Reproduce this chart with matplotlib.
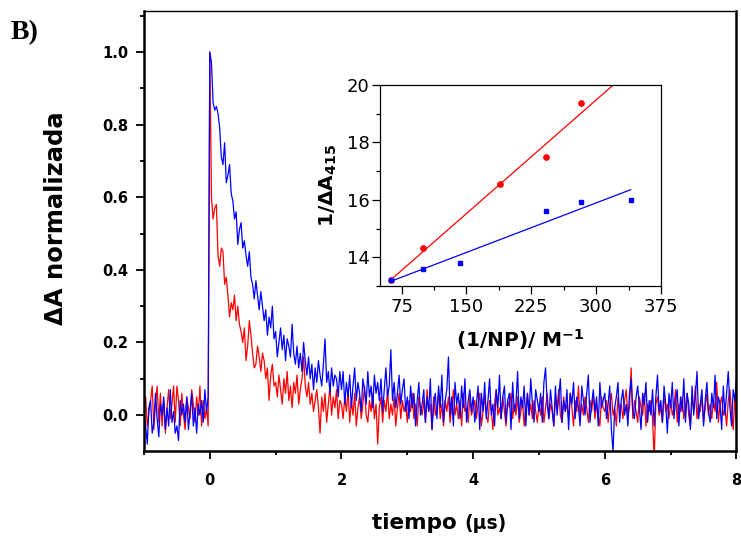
import numpy as np
import matplotlib.pyplot as plt
from matplotlib.ticker import MultipleLocator

# eje de tiempo (us): desde -1 con paso de 0.025
t_start, t_step = -1.0, 0.025

# señal normalizada, en centésimas
red_x100 = [
    2, 5, -3, 1, 4, 8, -4, 3, 8, -2,
    6, -3, 4, -5, 2, 7, -1, 3, 8, -2,
    8, 4, -3, 6, 0, -4, 5, 2, -1, 7,
    3, -2, 5, 0, 8, -3, 4, -1, 2, -3,
    100, 60, 54, 57, 58, 44, 41, 46, 45, 36,
    38, 33, 27, 31, 29, 33, 26, 30, 25, 23,
    20, 24, 15, 19, 26, 22, 17, 13, 14, 19,
    16, 12, 17, 15, 10, 13, 4, 11, 14, 8,
    9, 5, 11, 7, 3, 10, 6, 12, 4, 8,
    2, 9, 6, 11, 3, 7, 10, 16, 8, 5,
    9, 3, 6, 1, 4, 7, 2, -5, 5, 1,
    6, -2, 3, 8, 0, 5, 2, 7, -1, 4,
    3, -1, 5, 1, 7, -2, 4, 0, 6, -3,
    2, 5, -1, 3, 8, 0, -2, 4, 1, 6,
    -1, 3, -8, 2, 5, -2, 4, 1, 7, -1,
    3, 0, 5, -3, 2, 6, -1, 4, 1, 3,
    -2, 4, 1, 6, -1, 3, -3, 5, 2, 0,
    4, -2, 7, 1, 3, -4, 5, 0, 2, 6,
    -1, 3, -3, 4, 1, 5, -2, 2, 7, 0,
    3, -1, 4, -3, 6, 1, 2, -2, 5, 0,
    2, 4, -1, 3, 6, -3, 1, 5, 0, -2,
    4, 2, -4, 3, 7, 0, 2, -1, 5, 1,
    -3, 4, 2, 6, -1, 3, 0, 5, -2, 1,
    4, -3, 2, 6, 0, 3, -1, 4, 1, -2,
    3, 0, 5, -2, 2, 6, -1, 3, 1, -3,
    4, 2, 7, 0, -2, 5, 1, 3, -1, 6,
    2, -3, 4, 1, 8, -1, 3, 0, 5, 2,
    -2, 4, 1, 6, -1, 3, 0, -3, 5, 2,
    1, 4, -2, 3, 6, 0, 2, -3, 5, 1,
    3, -1, 4, 7, 0, 2, 13, -1, 4, 1,
    -2, 5, 2, 0, 6, -3, 3, 1, 4, -1,
    -12, 3, 5, 0, 2, -2, 6, 1, 3, -1,
    4, 0, 2, 7, -2, 3, 1, 5, -1, 2,
    6, 0, -3, 4, 2, 8, -1, 3, 1, 5,
    -2, 2, 6, 0, 3, -1, 4, 1, 9, -2,
    3, 5, 0, 2, -3, 4, 7, 1, -4, 5,
    -3,
]
blue_x100 = [
    1, -3, -8, 2, 4, -5, -2, 6, -1, -6,
    3, 0, 5, -4, 2, -3, 7, -2, 1, -5,
    -3, -7, 4, 0, 3, -2, 5, -4, 1, 6,
    -3, 2, -5, 3, 0, 4, -2, 7, 1, 5,
    100, 97, 86, 84, 85, 83, 79, 71, 69, 75,
    64, 66, 69, 61, 59, 54, 56, 47, 51, 53,
    46, 48, 44, 41, 45, 38, 36, 32, 37, 33,
    29, 34, 30, 26, 29, 22, 27, 24, 30, 21,
    23, 16, 20, 24, 18, 22, 15, 21, 19, 16,
    25, 17, 14, 19, 13, 17, 12, 20, 15, 11,
    16, 10, 14, 7, 13, 9, 15, 11, 8, 14,
    21, 9, 12, 6, 13, 8, 11, 10, 5, 12,
    7, 12, 3, 9, 5, 11, 2, 8, 13, 4,
    9, 6, 1, 10, 7, 3, 12, 5, 8, 2,
    11, 6, 9, 4, 10, 1, 7, 13, 5, 8,
    18, 4, 9, 2, 6, 11, 3, 7, 10, 1,
    5, -1, 8, 2, 6, -3, 4, 9, 0, 3,
    7, -2, 5, 1, 10, -4, 3, 6, -1, 8,
    2, 11, -2, 4, 7, 16, 0, 5, -3, 9,
    3, 6, -1, 8, 2, 10, -2, 4, 7, 1,
    5, -2, 3, 8, -4, 6, 1, 9, -1, 4,
    10, 0, 3, -3, 7, 2, 11, -1, 5, 8,
    -2, 4, 6, -4, 9, 1, 3, 12, -1, 5,
    2, 8, -3, 6, 0, 10, 3, -2, 7, 4,
    1, 6, -2, 9, 13, 3, -1, 7, 2, -3,
    8, 0, 5, 10, -2, 4, 1, 7, -4, 6,
    3, 9, -1, 5, 2, -3, 8, 4, 0, 6,
    11, -2, 3, 7, 1, 5, -3, 9, 2, 4,
    6, -1, 3, 8, -4, -10, 2, 5, 9, -2,
    4, 7, 0, 3, -3, 6, 10, 1, -1, 5,
    8, 2, -4, 6, 3, 9, -2, 4, 0, 7,
    -3, 5, 11, 1, 4, -2, 8, 3, -5, 6,
    2, 9, -1, 4, 7, -3, 5, 1, 10, -2,
    6, 3, -4, 8, 0, 5, 12, -1, 3, 7,
    -3, 4, 9, 1, -2, 6, 2, 11, -1, 5,
    3, -4, 8, 0, 6, 12, 2, -3, 7, 4,
    10,
]

# inset: 1/dA415 vs 1/[NP]
red_np_inv = [63, 100, 189, 242, 283]
red_inv_dA = [13.2, 14.33, 16.56, 17.51, 19.36]
blue_np_inv = [63, 100, 142, 242, 283, 340]
blue_inv_dA = [13.2, 13.58, 13.8, 15.6, 15.93, 16.01]

RED = "#ff0000"
BLUE = "#0000ff"


def main():
    fig = plt.figure(figsize=(7.41, 5.38), dpi=100)

    # panel principal
    ax = fig.add_axes([0.1943, 0.1617, 0.7996, 0.8179])
    for vals, color in ((red_x100, RED), (blue_x100, BLUE)):
        y = np.array(vals) / 100.0
        t = t_start + t_step * np.arange(len(y))
        ax.plot(t, y, color=color, lw=0.9)

    ax.set_xlim(-1, 8)
    ax.set_ylim(-0.099, 1.113)
    ax.xaxis.set_major_locator(MultipleLocator(2))
    ax.xaxis.set_minor_locator(MultipleLocator(1))
    ax.yaxis.set_major_locator(MultipleLocator(0.2))
    ax.yaxis.set_minor_locator(MultipleLocator(0.1))
    ax.tick_params(which="both", direction="out", width=1.3, top=False, right=False)
    ax.tick_params(which="major", length=5.5)
    ax.tick_params(which="minor", length=2.7)
    ax.tick_params(axis="x", which="major", pad=10)
    ax.tick_params(axis="y", which="major", pad=6)
    for lab in ax.get_xticklabels() + ax.get_yticklabels():
        lab.set_fontweight("bold")
        lab.set_fontsize(10.5)
    for side in ("left", "bottom", "right"):
        ax.spines[side].set_linewidth(1.8)
    ax.spines["top"].set_linewidth(1.0)

    fig.text(0.0756, 0.594, "ΔA normalizada", rotation=90, ha="center", va="center",
             fontsize=17.5, fontweight="bold")
    fig.text(464 / 741, 0.0167, "tiempo ", ha="right", va="baseline",
             fontsize=15.5, fontweight="bold")
    fig.text(464 / 741, 0.0167, "(μs)", ha="left", va="baseline",
             fontsize=13.5, fontweight="bold")
    fig.text(11 / 741, 0.927, "B)", ha="left", va="baseline",
             fontsize=20, fontweight="bold", family="Liberation Serif")

    # inset
    ins = fig.add_axes([0.5128, 0.4684, 0.3792, 0.3736])
    ins.set_facecolor("white")
    fit_x = np.array([63, 340])
    for xs, ys, color, marker, ms in ((red_np_inv, red_inv_dA, RED, "o", 3.8),
                                       (blue_np_inv, blue_inv_dA, BLUE, "s", 3.4)):
        ins.plot(xs, ys, marker, color=color, ms=ms, mec=color)
        k, b = np.polyfit(xs, ys, 1)
        ins.plot(fit_x, k * fit_x + b, color=color, lw=0.9)
    ins.set_xlim(50, 375)
    ins.set_ylim(13, 20)
    ins.xaxis.set_major_locator(MultipleLocator(75))
    ins.xaxis.set_minor_locator(MultipleLocator(37.5))
    ins.yaxis.set_major_locator(MultipleLocator(2))
    ins.yaxis.set_minor_locator(MultipleLocator(1))
    ins.tick_params(which="both", direction="out", width=0.9, labelsize=13)
    ins.tick_params(which="major", length=5.5)
    ins.tick_params(which="minor", length=2.7)
    ins.tick_params(axis="x", which="major", pad=3)
    ins.tick_params(axis="y", which="major", pad=1.8)
    for sp in ins.spines.values():
        sp.set_linewidth(0.9)
    ins.set_ylabel("1/ΔA$_{\\mathbf{415}}$", fontsize=14.5, fontweight="bold", labelpad=6)
    ins.set_xlabel("(1/NP)/ M$^{\\mathbf{-1}}$", fontsize=14.5, fontweight="bold", labelpad=8)

    plt.savefig("out.png", dpi=100)
    plt.close(fig)


if __name__ == "__main__":
    main()
